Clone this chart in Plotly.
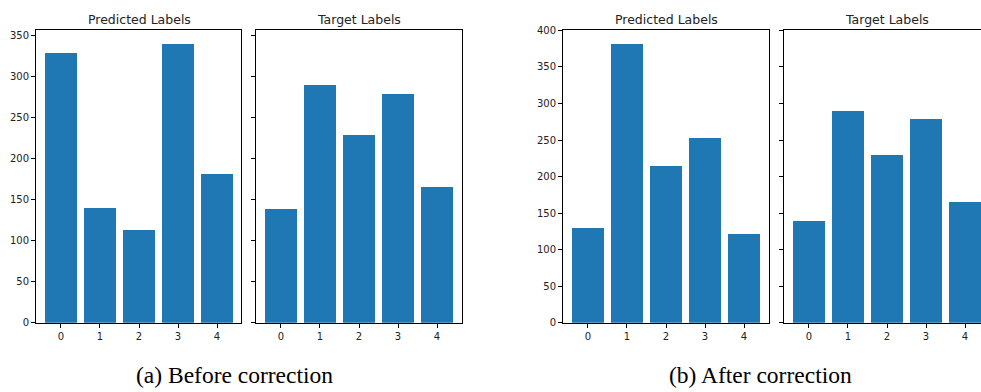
import plotly.graph_objects as go

# ---- data ----
categories = [0, 1, 2, 3, 4]
before_predicted = [328, 140, 113, 339, 181]
before_target = [139, 289, 229, 279, 165]
after_predicted = [130, 381, 215, 253, 122]
after_target = [139, 289, 229, 279, 165]

yticks_before = [0, 50, 100, 150, 200, 250, 300, 350]
yticks_after = [0, 50, 100, 150, 200, 250, 300, 350, 400]
panel_titles = ["Predicted Labels", "Target Labels", "Predicted Labels", "Target Labels"]
captions = ["(a) Before correction", "(b) After correction"]

W, H = 981, 392
BAR_COLOR = "#1f77b4"


def fx(px):
    return px / W


def fy(py):
    return 1 - py / H


panels = [
    dict(vals=before_predicted, x0=36, x1=241, yt=yticks_before, labels=True),
    dict(vals=before_target, x0=256, x1=462, yt=yticks_before, labels=False),
    dict(vals=after_predicted, x0=563, x1=769, yt=yticks_after, labels=True),
    dict(vals=after_target, x0=784, x1=981, yt=yticks_after, labels=False),
]
full_w = 206  # width of a full panel in px
y_top, y_bot = 26, 327

fig = go.Figure()
tick_font = dict(family="DejaVu Sans", size=10, color="#222")

for i, p in enumerate(panels):
    n = i + 1
    xa = "x" if n == 1 else f"x{n}"
    ya = "y" if n == 1 else f"y{n}"
    fig.add_trace(go.Bar(
        x=categories, y=p["vals"], width=0.8,
        marker=dict(color=BAR_COLOR, line=dict(width=0)),
        xaxis=xa, yaxis=ya, showlegend=False, hoverinfo="skip",
    ))
    group_max = max(before_predicted + before_target) if n <= 2 else max(after_predicted + after_target)
    ymax = group_max * 1.05
    xr0 = -0.4 - 0.05 * 4.8
    span = 4.8 * 1.1
    xr1 = xr0 + span * (p["x1"] - p["x0"]) / full_w
    clipped = n == 4
    fig.layout[f"xaxis{'' if n == 1 else n}"] = dict(
        domain=[fx(p["x0"]), fx(p["x1"])], anchor=ya,
        range=[xr0, xr1], tickmode="array", tickvals=categories,
        ticktext=[str(c) for c in categories],
        showline=True, linecolor="#000", linewidth=1, mirror=True,
        ticks="outside", ticklen=4, tickcolor="#000", tickwidth=1,
        showgrid=False, zeroline=False, tickfont=tick_font, fixedrange=True,
    )
    fig.layout[f"yaxis{'' if n == 1 else n}"] = dict(
        domain=[fy(y_bot), fy(y_top)], anchor=xa,
        range=[0, ymax], tickmode="array", tickvals=p["yt"],
        showticklabels=p["labels"],
        showline=True, linecolor="#000", linewidth=1, mirror=not clipped,
        ticks="outside", ticklen=4, tickcolor="#000", tickwidth=1,
        showgrid=False, zeroline=False, tickfont=tick_font, fixedrange=True,
    )
    cx = (p["x0"] + p["x0"] + full_w) / 2
    fig.add_annotation(
        text=panel_titles[i], x=fx(cx), y=fy(15), xref="paper", yref="paper",
        showarrow=False, xanchor="center", yanchor="middle",
        font=dict(family="DejaVu Sans", size=12.5, color="#222"),
    )

for cap, cx in zip(captions, [234, 760.5]):
    fig.add_annotation(
        text=cap, x=fx(cx), y=fy(381), xref="paper", yref="paper",
        showarrow=False, xanchor="center", yanchor="middle",
        font=dict(family="Liberation Serif", size=23.5, color="#000"),
    )

fig.update_layout(
    width=W, height=H, autosize=False,
    margin=dict(l=0, r=0, t=0, b=0),
    paper_bgcolor="white", plot_bgcolor="white",
    bargap=0,
)

fig.write_html(
    "out.html",
    config={"displayModeBar": False, "staticPlot": True},
    post_script="document.body.style.margin='0';document.body.style.overflow='hidden';",
)
